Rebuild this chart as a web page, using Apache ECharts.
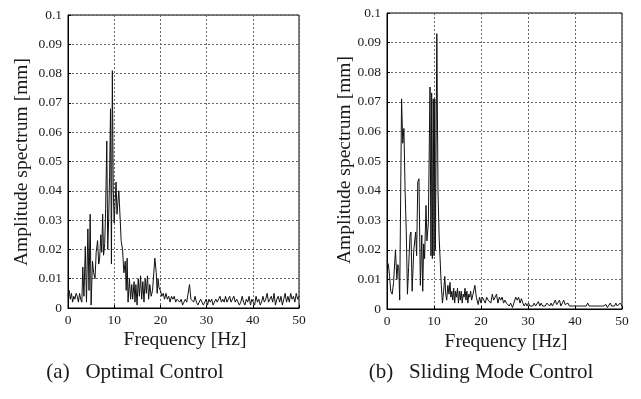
<!DOCTYPE html>
<html><head><meta charset="utf-8">
<script src="https://cdn.jsdelivr.net/npm/echarts@6/dist/echarts.min.js"></script>
<style>html,body{margin:0;padding:0;background:#fff}#c{width:641px;height:399px}</style>
</head><body><div id="c"></div>
<script>
// Amplitude spectrum, (a) Optimal Control: [frequency Hz, amplitude mm]
var spectrumOptimal = [
[0,0.004],[0.25,0.006],[0.5,0.003],[0.75,0.005],[1.0,0.002],[1.25,0.004],[1.5,0.003],[1.75,0.005],[2.0,0.004],[2.25,0.002],
[2.5,0.005],[2.75,0.003],[3.0,0.002],[3.2,0.014],[3.45,0.004],[3.75,0.021],[4.0,0.002],[4.3,0.027],[4.55,0.006],[4.8,0.032],
[5.0,0.001],[5.3,0.016],[5.55,0.012],[5.85,0.010],[6.1,0.019],[6.4,0.023],[6.65,0.015],[6.85,0.017],[7.1,0.025],[7.3,0.019],
[7.5,0.032],[7.7,0.018],[7.95,0.022],[8.15,0.034],[8.4,0.057],[8.6,0.020],[8.8,0.030],[9.0,0.045],[9.2,0.068],[9.4,0.015],
[9.6,0.081],[9.8,0.040],[10.0,0.029],[10.2,0.036],[10.4,0.043],[10.6,0.032],[10.8,0.036],[11.0,0.040],[11.3,0.030],[11.5,0.023],
[11.8,0.020],[12.1,0.012],[12.4,0.016],[12.6,0.006],[12.8,0.017],[13.0,0.002],[13.3,0.010],[13.55,0.003],[13.8,0.008],[14.0,0.003],
[14.3,0.009],[14.5,0.002],[14.7,0.008],[14.95,0.001],[15.2,0.010],[15.45,0.004],[15.7,0.011],[15.95,0.003],[16.2,0.009],[16.45,0.002],
[16.7,0.010],[16.95,0.005],[17.2,0.011],[17.45,0.003],[17.7,0.008],[18.0,0.004],[18.3,0.006],[18.8,0.017],[19.1,0.012],[19.3,0.005],
[19.5,0.010],[19.7,0.007],[20.0,0.006],[20.3,0.004],[20.6,0.005],[20.9,0.003],[21.2,0.005],[21.5,0.003],[21.8,0.004],[22.1,0.002],
[22.4,0.004],[22.7,0.003],[23.0,0.004],[23.3,0.002],[23.6,0.003],[23.9,0.003],[24.2,0.002],[24.5,0.003],[24.8,0.001],[25.1,0.002],
[25.4,0.003],[25.7,0.002],[26.0,0.002],[26.3,0.008],[26.6,0.003],[26.9,0.003],[27.2,0.002],[27.5,0.004],[27.8,0.002],[28.1,0.001],
[28.4,0.002],[28.7,0.003],[29.0,0.002],[29.3,0.001],[29.6,0.002],[29.9,0.003],[30.2,0.001],[30.5,0.003],[30.8,0.002],[31.1,0.003],
[31.4,0.001],[31.7,0.002],[32.0,0.003],[32.3,0.002],[32.6,0.003],[32.9,0.004],[33.2,0.002],[33.5,0.003],[33.8,0.002],[34.1,0.004],
[34.4,0.002],[34.7,0.003],[35.0,0.004],[35.3,0.002],[35.6,0.003],[35.9,0.004],[36.2,0.002],[36.5,0.003],[36.8,0.002],[37.1,0.001],
[37.4,0.002],[37.7,0.004],[38.0,0.002],[38.3,0.001],[38.6,0.003],[38.9,0.002],[39.2,0.004],[39.5,0.001],[39.8,0.003],[40.1,0.002],
[40.4,0.001],[40.7,0.004],[41.0,0.002],[41.3,0.003],[41.6,0.001],[41.9,0.002],[42.2,0.004],[42.5,0.002],[42.8,0.003],[43.1,0.005],
[43.4,0.002],[43.7,0.003],[44.0,0.004],[44.3,0.002],[44.6,0.005],[44.9,0.001],[45.2,0.003],[45.5,0.004],[45.8,0.002],[46.1,0.004],
[46.4,0.001],[46.7,0.003],[47.0,0.005],[47.3,0.002],[47.6,0.004],[47.9,0.002],[48.2,0.005],[48.5,0.003],[48.8,0.004],[49.1,0.002],
[49.4,0.005],[49.7,0.003],[50.0,0.004]
];
// Amplitude spectrum, (b) Sliding Mode Control: [frequency Hz, amplitude mm]
var spectrumSliding = [
[0,0.016],[0.3,0.015],[0.55,0.011],[0.8,0.006],[1.1,0.005],[1.4,0.009],[1.8,0.020],[2.1,0.010],[2.3,0.015],[2.5,0.014],
[2.7,0.003],[3.1,0.071],[3.35,0.056],[3.6,0.061],[3.85,0.040],[4.1,0.026],[4.35,0.005],[4.6,0.014],[4.9,0.025],[5.1,0.026],
[5.35,0.006],[5.7,0.020],[6.1,0.026],[6.3,0.018],[6.55,0.043],[6.8,0.044],[7.1,0.008],[7.4,0.025],[7.6,0.006],[7.8,0.022],
[8.0,0.017],[8.3,0.035],[8.5,0.023],[8.8,0.029],[9.15,0.075],[9.35,0.018],[9.5,0.073],[9.65,0.017],[9.85,0.071],[10.0,0.018],
[10.15,0.071],[10.3,0.020],[10.6,0.093],[10.85,0.040],[11.1,0.024],[11.3,0.024],[11.55,0.008],[11.8,0.002],[12.05,0.006],[12.3,0.011],
[12.5,0.005],[12.7,0.003],[12.95,0.008],[13.2,0.005],[13.4,0.009],[13.6,0.004],[13.8,0.006],[14.0,0.003],[14.2,0.007],[14.4,0.002],
[14.6,0.006],[14.8,0.004],[15.0,0.007],[15.2,0.002],[15.4,0.006],[15.6,0.003],[15.8,0.006],[16.0,0.002],[16.2,0.005],[16.4,0.004],
[16.6,0.007],[16.8,0.003],[17.0,0.006],[17.2,0.002],[17.4,0.005],[17.6,0.004],[17.8,0.006],[18.0,0.003],[18.3,0.005],[18.7,0.008],
[19.0,0.004],[19.4,0.0015],[19.7,0.004],[20.0,0.002],[20.3,0.004],[20.6,0.003],[20.9,0.002],[21.2,0.004],[21.5,0.003],[21.8,0.003],
[22.1,0.002],[22.4,0.005],[22.7,0.003],[23.0,0.004],[23.3,0.005],[23.6,0.002],[23.9,0.004],[24.2,0.003],[24.5,0.004],[24.8,0.002],
[25.1,0.003],[25.4,0.002],[25.7,0.002],[26.0,0.001],[26.3,0.002],[26.7,0.0005],[27.0,0.002],[27.4,0.004],[27.7,0.003],[28.0,0.004],
[28.3,0.002],[28.6,0.0035],[28.9,0.002],[29.2,0.001],[29.5,0.002],[29.8,0.001],[30.1,0.002],[30.4,0.001],[30.7,0.0015],[31.0,0.001],
[31.3,0.002],[31.6,0.001],[31.9,0.0015],[32.2,0.0025],[32.5,0.001],[32.8,0.002],[33.1,0.001],[33.4,0.0015],[33.7,0.001],[34.0,0.002],
[34.3,0.0025],[34.6,0.001],[34.9,0.002],[35.2,0.001],[35.5,0.002],[35.8,0.003],[36.1,0.0015],[36.4,0.002],[36.7,0.003],[37.0,0.001],
[37.3,0.002],[37.6,0.003],[37.9,0.0015],[38.2,0.001],[38.5,0.002],[38.8,0.001],[39.1,0.0015],[39.4,0.001],[39.7,0.0005],[40.0,0.001],
[40.3,0.0015],[40.6,0.001],[40.9,0.0005],[41.2,0.001],[41.5,0.0015],[41.8,0.001],[42.1,0.0005],[42.4,0.001],[42.7,0.002],[43.0,0.001],
[43.3,0.0005],[43.6,0.001],[43.9,0.0015],[44.2,0.001],[44.5,0.0005],[44.8,0.001],[45.1,0.0015],[45.4,0.001],[45.7,0.0005],[46.0,0.001],
[46.3,0.001],[46.6,0.0015],[46.9,0.0005],[47.2,0.001],[47.5,0.002],[47.8,0.001],[48.1,0.0005],[48.4,0.001],[48.7,0.002],[49.0,0.001],
[49.3,0.0015],[49.6,0.002],[50.0,0.001]
];
var xTicks = [0, 10, 20, 30, 40, 50];
var yTickLabels = ['0','0.01','0.02','0.03','0.04','0.05','0.06','0.07','0.08','0.09','0.1'];
var captions = ['(a)\u2002 Optimal Control', '(b)\u2002 Sliding Mode Control'];
var xTitle = 'Frequency [Hz]';
var yTitle = 'Amplitude spectrum [mm]';

var FONT = '"Liberation Serif", "DejaVu Serif", serif';
function xAxisCfg(gi) {
  return {
    type: 'value', gridIndex: gi, min: xTicks[0], max: xTicks[xTicks.length-1], interval: 10,
    axisLine: { show: true, onZero: false, lineStyle: { color: '#000', width: 1 } },
    axisTick: { show: true, inside: true, length: 3, lineStyle: { color: '#000' } },
    axisLabel: { color: '#1a1a1a', fontFamily: FONT, fontSize: 13.5, margin: 5 },
    splitLine: { show: true, lineStyle: { color: '#666', type: [2, 2], width: 1 } }
  };
}
function yAxisCfg(gi) {
  return {
    type: 'value', gridIndex: gi, min: 0, max: 0.1, interval: 0.01,
    axisLine: { show: true, lineStyle: { color: '#000', width: 1 } },
    axisTick: { show: true, inside: true, length: 3, lineStyle: { color: '#000' } },
    axisLabel: { color: '#1a1a1a', fontFamily: FONT, fontSize: 13.5, margin: 6,
      formatter: function (v) { return yTickLabels[Math.round(v * 100)]; } },
    splitLine: { show: true, lineStyle: { color: '#666', type: [2, 2], width: 1 } }
  };
}
var chart = echarts.init(document.getElementById('c'), null, { renderer: 'canvas' });
chart.setOption({
  animation: false,
  backgroundColor: '#fff',
  grid: [
    { left: 68, top: 15, width: 231, height: 293, show: true, borderColor: '#000', borderWidth: 1, backgroundColor: 'transparent' },
    { left: 387, top: 13, width: 235, height: 296, show: true, borderColor: '#000', borderWidth: 1, backgroundColor: 'transparent' }
  ],
  xAxis: [xAxisCfg(0), xAxisCfg(1)],
  yAxis: [yAxisCfg(0), yAxisCfg(1)],
  series: [
    { type: 'line', xAxisIndex: 0, yAxisIndex: 0, data: spectrumOptimal, showSymbol: false, symbol: 'none',
      lineStyle: { color: '#111', width: 1 } },
    { type: 'line', xAxisIndex: 1, yAxisIndex: 1, data: spectrumSliding, showSymbol: false, symbol: 'none',
      lineStyle: { color: '#111', width: 1 } }
  ],
  graphic: [
    { type: 'text', x: 185, y: 340, style: { text: xTitle, fontFamily: FONT, fontSize: 19.5, fill: '#1a1a1a', textAlign: 'center', textVerticalAlign: 'middle' } },
    { type: 'text', x: 506, y: 342, style: { text: xTitle, fontFamily: FONT, fontSize: 19.5, fill: '#1a1a1a', textAlign: 'center', textVerticalAlign: 'middle' } },
    { type: 'text', x: 22, y: 162, rotation: Math.PI / 2, style: { text: yTitle, fontFamily: FONT, fontSize: 19.5, fill: '#1a1a1a', textAlign: 'center', textVerticalAlign: 'middle' } },
    { type: 'text', x: 345, y: 160, rotation: Math.PI / 2, style: { text: yTitle, fontFamily: FONT, fontSize: 19.5, fill: '#1a1a1a', textAlign: 'center', textVerticalAlign: 'middle' } },
    { type: 'text', x: 135, y: 372, style: { text: captions[0], fontFamily: FONT, fontSize: 21, fill: '#1a1a1a', textAlign: 'center', textVerticalAlign: 'middle' } },
    { type: 'text', x: 481, y: 372, style: { text: captions[1], fontFamily: FONT, fontSize: 21, fill: '#1a1a1a', textAlign: 'center', textVerticalAlign: 'middle' } }
  ]
});
</script>
</body></html>
